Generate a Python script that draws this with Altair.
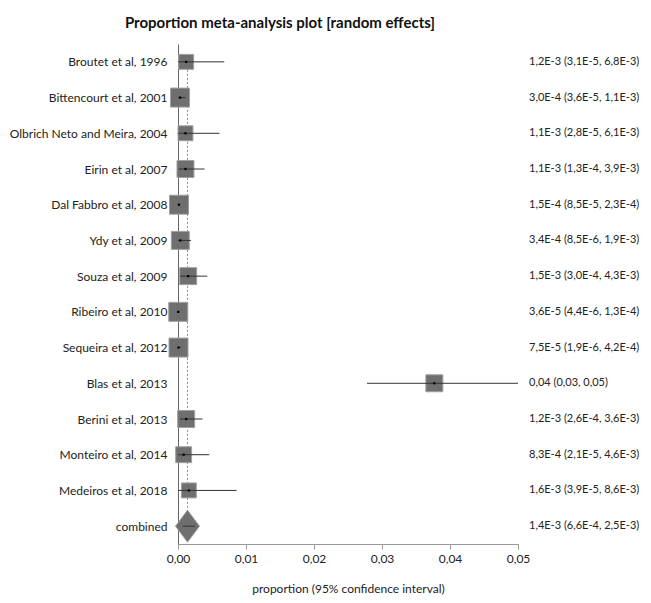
import altair as alt
import pandas as pd

studies = [
    "Broutet et al, 1996",
    "Bittencourt et al, 2001",
    "Olbrich Neto and Meira, 2004",
    "Eirin et al, 2007",
    "Dal Fabbro et al, 2008",
    "Ydy et al, 2009",
    "Souza et al, 2009",
    "Ribeiro et al, 2010",
    "Sequeira et al, 2012",
    "Blas et al, 2013",
    "Berini et al, 2013",
    "Monteiro et al, 2014",
    "Medeiros et al, 2018",
]
est = [1.2e-3, 3.0e-4, 1.1e-3, 1.1e-3, 1.5e-4, 3.4e-4, 1.5e-3, 3.6e-5, 7.5e-5, 0.0377, 1.2e-3, 8.3e-4, 1.6e-3]
lo = [3.1e-5, 3.6e-5, 2.8e-5, 1.3e-4, 8.5e-5, 8.5e-6, 3.0e-4, 4.4e-6, 1.9e-6, 0.0278, 2.6e-4, 2.1e-5, 3.9e-5]
hi = [6.8e-3, 1.1e-3, 6.1e-3, 3.9e-3, 2.3e-4, 1.9e-3, 4.3e-3, 1.3e-4, 4.2e-4, 0.05, 3.6e-3, 4.6e-3, 8.6e-3]
weights = [5.8, 9.4, 5.8, 7.5, 9.4, 8.4, 7.5, 9.4, 9.4, 7.5, 7.5, 6.6, 5.8]
ci_text = [
    "1,2E-3 (3,1E-5, 6,8E-3)",
    "3,0E-4 (3,6E-5, 1,1E-3)",
    "1,1E-3 (2,8E-5, 6,1E-3)",
    "1,1E-3 (1,3E-4, 3,9E-3)",
    "1,5E-4 (8,5E-5, 2,3E-4)",
    "3,4E-4 (8,5E-6, 1,9E-3)",
    "1,5E-3 (3,0E-4, 4,3E-3)",
    "3,6E-5 (4,4E-6, 1,3E-4)",
    "7,5E-5 (1,9E-6, 4,2E-4)",
    "0,04 (0,03, 0,05)",
    "1,2E-3 (2,6E-4, 3,6E-3)",
    "8,3E-4 (2,1E-5, 4,6E-3)",
    "1,6E-3 (3,9E-5, 8,6E-3)",
]
comb_label = ["combined"]
comb_est = [1.4e-3]
comb_lo = [6.6e-4]
comb_hi = [2.5e-3]
comb_text = ["1,4E-3 (6,6E-4, 2,5E-3)"]
x_ticks = [0, 0.01, 0.02, 0.03, 0.04, 0.05]

FONT = "Lato"
order = studies + comb_label

df = pd.DataFrame({"study": studies, "est": est, "lo": lo, "hi": hi,
                   "w": weights, "txt": ci_text})
dc = pd.DataFrame({"study": comb_label, "est": comb_est, "lo": comb_lo,
                   "hi": comb_hi, "txt": comb_text})
dall = pd.concat([df, dc], ignore_index=True)

xscale = alt.Scale(domain=[0, 0.05], nice=False, zero=True)
xaxis = alt.Axis(values=x_ticks,
                 labelExpr="replace(format(datum.value, '.2f'), '.', ',')",
                 title="proportion (95% confidence interval)", grid=False,
                 domainColor="#999", tickColor="#999", tickSize=5,
                 labelFlush=False,
                 labelFont=FONT, labelFontSize=12, labelColor="#222", labelPadding=4,
                 titleFont=FONT, titleFontSize=12, titleFontWeight="normal",
                 titleColor="#222", titlePadding=19)
yscale = alt.Scale(type="point", padding=0.5, domain=order)
yaxis = alt.Axis(title=None, ticks=False, domain=True, domainColor="#666",
                 labelPadding=11, labelFont=FONT, labelFontSize=12,
                 labelColor="#222", labelLimit=400)

def X(f):
    return alt.X(f, type="quantitative", scale=xscale, axis=xaxis)

def Y():
    return alt.Y("study:N", sort=order, scale=yscale, axis=yaxis)

base = alt.Chart(df)

dotted = alt.Chart(dc).mark_rule(color="#8a8a8a", strokeDash=[2, 2], strokeWidth=1).encode(
    x=X("est"),
    y=alt.Y("first:N", sort=order, scale=yscale, axis=yaxis),
    y2="study:N",
).transform_calculate(first=f"'{studies[0]}'")

boxes = base.mark_square(color="#6f6f6f", opacity=1, stroke="#a0a0a0", strokeWidth=1).encode(
    x=X("est"), y=Y(),
    size=alt.Size("w:Q", scale=alt.Scale(domain=[0, 9.4], range=[0, 361]), legend=None),
)

diamond = alt.Chart(dc).mark_point(
    shape="M-0.75,0L0,-1L0.75,0L0,1Z", size=1024, filled=True,
    color="#6f6f6f", opacity=1, stroke="#a0a0a0", strokeWidth=1,
).encode(x=X("est"), y=Y())

ci = alt.Chart(dall).mark_rule(color="#333", strokeWidth=1).encode(
    x=X("lo"), x2="hi", y=Y())

dots = base.mark_square(color="#000", opacity=1, size=5).encode(x=X("est"), y=Y())

labels = alt.Chart(dall).mark_text(align="left", baseline="middle", font=FONT,
                                   fontSize=11, color="#222").encode(
    x=alt.value(351), y=Y(), text="txt:N")

chart = alt.layer(dotted, boxes, diamond, ci, dots, labels).properties(
    width=340, height=500,
    title=alt.TitleParams("Proportion meta-analysis plot [random effects]",
                          font=FONT, fontSize=15, fontWeight="bold", color="#111",
                          anchor="middle", dx=-68, offset=13),
    autosize=alt.AutoSizeParams(type="none"),
    padding={"left": 170, "top": 36, "right": 125, "bottom": 51},
).configure_view(stroke=None)

chart.save("out.html", embed_options={"renderer": "svg", "actions": False})
